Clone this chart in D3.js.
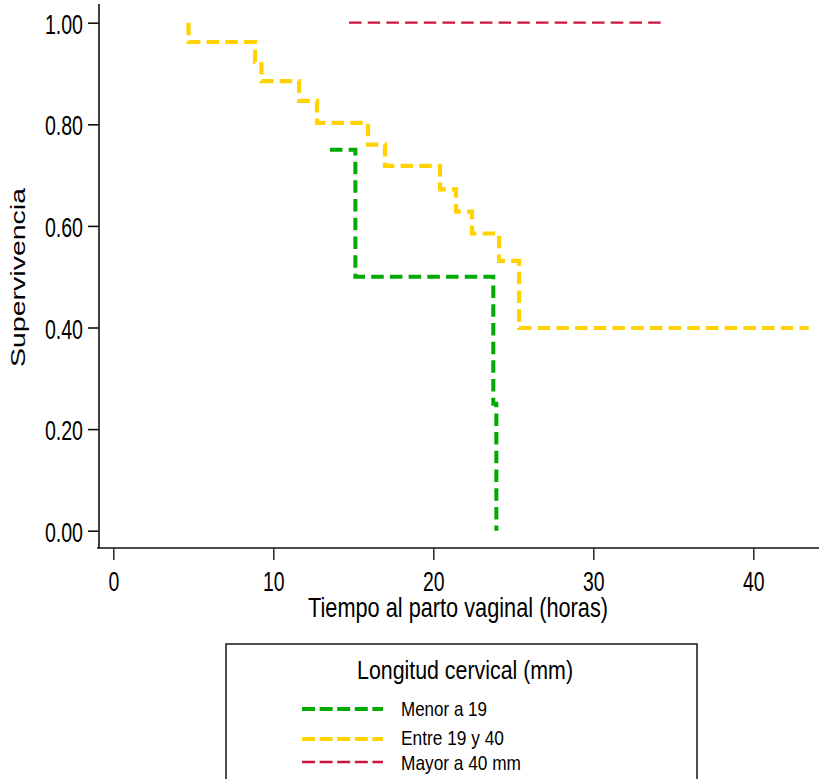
<!DOCTYPE html>
<html>
<head>
<meta charset="utf-8">
<script src="https://cdn.jsdelivr.net/npm/d3@7"></script>
<style>
  html, body { margin: 0; padding: 0; background: #fff; }
  svg { display: block; font-family: "Liberation Sans", Arial, sans-serif; }
</style>
</head>
<body>
<svg id="chart" width="819" height="779"></svg>
<script>
// ---- Data ----
const seriesNames = ["Menor a 19", "Entre 19 y 40", "Mayor a 40 mm"];
const seriesColors = ["#00AA00", "#FFD200", "#CC1440"];

// Kaplan-Meier steps: [time (h), survival]
const menor19 = [[13.54, 0.75], [15.13, 0.50], [23.75, 0.25], [23.94, 0.0]];
const entre19y40 = [
  [4.70, 1.000], [4.70, 0.962], [8.86, 0.923], [9.26, 0.885], [11.61, 0.846],
  [12.73, 0.803], [15.92, 0.760], [16.98, 0.718], [20.42, 0.672], [21.42, 0.628],
  [22.42, 0.585], [24.11, 0.531], [25.36, 0.399], [43.46, 0.399]
];
const mayor40 = [[14.73, 1.0], [34.30, 1.0]];

const xTicks = [0, 10, 20, 30, 40];
const yTicks = [0, 0.2, 0.4, 0.6, 0.8, 1.0];
const xTitle = "Tiempo al parto vaginal (horas)";
const yTitle = "Supervivencia";
const legendTitle = "Longitud cervical (mm)";

// ---- Drawing ----
const svg = d3.select("#chart");
const x = d3.scaleLinear().domain([0, 40]).range([113.3, 753.3]);
const y = d3.scaleLinear().domain([0, 1]).range([530.7, 22.7]);

const axisY0 = 548;   // x-axis line position
const axisX0 = 99;    // y-axis line position

// Axis lines
svg.append("line").attr("x1", 97).attr("x2", 819).attr("y1", axisY0).attr("y2", axisY0)
  .attr("stroke", "#111").attr("stroke-width", 1.6);
svg.append("line").attr("x1", axisX0).attr("x2", axisX0).attr("y1", 4).attr("y2", axisY0)
  .attr("stroke", "#111").attr("stroke-width", 1.6);

// Y axis
const gy = svg.append("g").attr("transform", `translate(${axisX0},0)`)
  .call(d3.axisLeft(y).tickValues(yTicks).tickFormat(d3.format(".2f")).tickSize(11));
gy.select(".domain").remove();
gy.selectAll(".tick line").attr("stroke", "#111").attr("stroke-width", 1.6);
gy.selectAll(".tick text")
  .attr("font-family", "Liberation Sans, Arial, sans-serif")
  .attr("font-size", 28).attr("fill", "#000")
  .attr("x", -16 / 0.7).attr("dy", "0.38em")
  .attr("transform", "scale(0.7,1)");

// X axis
const gx = svg.append("g").attr("transform", `translate(0,${axisY0})`)
  .call(d3.axisBottom(x).tickValues(xTicks).tickFormat(d3.format("d")).tickSize(12));
gx.select(".domain").remove();
gx.selectAll(".tick line").attr("stroke", "#333").attr("stroke-width", 1.6);
gx.selectAll(".tick text")
  .attr("font-family", "Liberation Sans, Arial, sans-serif")
  .attr("font-size", 27).attr("fill", "#000")
  .attr("y", 43.5).attr("dy", 0)
  .attr("transform", "scale(0.72,1)")
  .attr("x", 0);

// Axis titles
svg.append("text").attr("x", 308).attr("y", 617)
  .attr("font-size", 27.5).attr("textLength", 300).attr("lengthAdjust", "spacingAndGlyphs")
  .text(xTitle);
svg.append("text")
  .attr("transform", "translate(24.5,277.5) scale(0.72,1) rotate(-90)")
  .attr("text-anchor", "middle").attr("font-size", 28.5)
  .attr("textLength", 179).attr("lengthAdjust", "spacingAndGlyphs")
  .text(yTitle);

// Survival curves
const line = d3.line().x(d => x(d[0])).y(d => y(d[1])).curve(d3.curveStepAfter);
const curves = [
  { data: mayor40, color: seriesColors[2], width: 2.3 },
  { data: entre19y40, color: seriesColors[1], width: 4.2 },
  { data: menor19, color: seriesColors[0], width: 4 }
];
svg.append("g").selectAll("path").data(curves).join("path")
  .attr("d", d => line(d.data))
  .attr("fill", "none")
  .attr("stroke", d => d.color)
  .attr("stroke-width", d => d.width)
  .attr("stroke-dasharray", "12.5,6.2");

// Legend
const lg = svg.append("g");
lg.append("rect").attr("x", 226).attr("y", 644).attr("width", 471).attr("height", 200)
  .attr("fill", "#fff").attr("stroke", "#222").attr("stroke-width", 1.6);
lg.append("text").attr("x", 357).attr("y", 679).attr("font-size", 25)
  .attr("textLength", 216).attr("lengthAdjust", "spacingAndGlyphs")
  .text(legendTitle);
const legendRows = [
  { name: seriesNames[0], color: seriesColors[0], w: 4, ly: 709, ty: 716, tl: 86 },
  { name: seriesNames[1], color: seriesColors[1], w: 4.2, ly: 739, ty: 745, tl: 103 },
  { name: seriesNames[2], color: seriesColors[2], w: 2.5, ly: 762, ty: 770, tl: 120 }
];
const rows = lg.selectAll("g.row").data(legendRows).join("g").attr("class", "row");
rows.append("line").attr("x1", 302).attr("x2", 383)
  .attr("y1", d => d.ly).attr("y2", d => d.ly)
  .attr("stroke", d => d.color).attr("stroke-width", d => d.w)
  .attr("stroke-dasharray", "13,4.6");
rows.append("text").attr("x", 401).attr("y", d => d.ty).attr("font-size", 21)
  .attr("textLength", d => d.tl).attr("lengthAdjust", "spacingAndGlyphs")
  .text(d => d.name);
</script>
</body>
</html>
